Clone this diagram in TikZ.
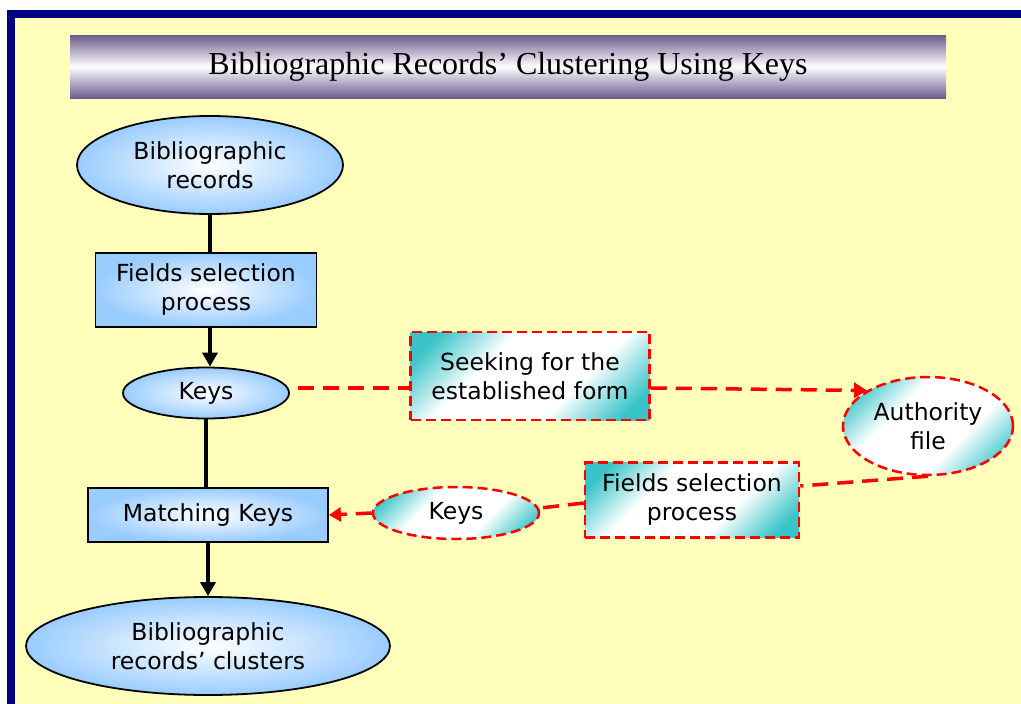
\documentclass[tikz,border=0pt]{standalone}
\usepackage{fontspec}
\setmainfont{DejaVu Sans}
\newfontfamily\titlefont{Liberation Serif}
\usetikzlibrary{shapes.geometric,arrows.meta}
\definecolor{navyframe}{RGB}{0,0,128}
\definecolor{paper}{RGB}{255,255,187}
\definecolor{dusk}{RGB}{106,92,142}
\definecolor{skyfill}{RGB}{153,204,255}
\definecolor{tealfill}{RGB}{56,196,200}
\pgfdeclareverticalshading{tealfade}{100bp}{color(0bp)=(tealfill); color(21bp)=(tealfill);
  color(38bp)=(white); color(62bp)=(white); color(79bp)=(tealfill); color(100bp)=(tealfill)}
\begin{document}
\begin{tikzpicture}[x=1pt,y=-1pt,
                    every node/.style={font=\fontsize{23.5}{29}\selectfont,align=center,inner sep=0pt},
                    blueell/.style={ellipse,draw=black,line width=1.8pt,inner color=white,outer color=skyfill},
                    bluebox/.style={rectangle,draw=black,line width=1.8pt,inner color=white,outer color=skyfill},
                    tealell/.style={ellipse,draw=red,line width=2.5pt,dash pattern=on 10pt off 5pt,
                                    shading=tealfade,shading angle=45},
                    tealbox/.style={rectangle,draw=red,line width=2.5pt,dash pattern=on 10pt off 5pt,
                                    shading=tealfade,shading angle=45},
                    flow/.style={line width=3.5pt},
                    redflow/.style={draw=red,line width=3.5pt,dash pattern=on 16pt off 9pt}]
\fill [white] (0,0) rectangle (1021,704);
\fill [navyframe] (7,10) rectangle (1021,704);
\fill [paper] (15,18) rectangle (1021,704);
\useasboundingbox (0,0) rectangle (1021,704);
\node [minimum width=876pt,minimum height=63pt,top color=dusk,bottom color=dusk,middle color=white,
       font=\titlefont\fontsize{32}{38}\selectfont] (title) at (508,66.5) {Bibliographic Records’ Clustering Using Keys};
\node [blueell,minimum width=266pt,minimum height=98pt] (recs) at (210,165) {Bibliographic\\records};
\node [bluebox,minimum width=221pt,minimum height=74pt] (fsel) at (206,290) {Fields selection\\process};
\node [blueell,minimum width=166pt,minimum height=51pt] (keys) at (206,393) {Keys};
\node [bluebox,minimum width=240pt,minimum height=54pt] (match) at (208,515) {Matching Keys};
\node [blueell,minimum width=364pt,minimum height=98pt] (clus) at (208,646) {Bibliographic\\records’ clusters};
\node [tealbox,minimum width=239pt,minimum height=88pt] (seek) at (530,376) {Seeking for the\\established form};
\node [tealell,minimum width=170pt,minimum height=98pt] (auth) at (928,426) {Authority\\file};
\node [tealbox,minimum width=214pt,minimum height=75pt] (fsel2) at (692,500) {Fields selection\\process};
\node [tealell,minimum width=166pt,minimum height=52pt] (keys2) at (456,513) {Keys};
\coordinate (kout) at ([xshift=8pt,yshift=5pt]keys.east);
\draw [flow] (recs.south) -- (recs.south |- fsel.north);
\draw [flow,-{Triangle[length=14pt,width=15pt]}] (fsel.south -| recs.south) -- (keys.north -| recs.south);
\draw [flow] (keys.south) -- (keys.south |- match.north);
\draw [flow,-{Triangle[length=14pt,width=15pt]}] (match.south) -- (match.south |- clus.north);
\draw [redflow] (kout) -- (kout -| seek.west);
\draw [redflow,-{Triangle[length=13pt,width=15pt]}] (kout -| seek.east) -- (auth.north west);
\draw [redflow] (auth.south) -- ([yshift=14pt]fsel2.east);
\draw [redflow] ([yshift=-3pt]fsel2.west) -- ([yshift=5pt]keys2.east);
\draw [redflow,-{Triangle[length=12pt,width=14pt]}] (keys2.west) -- (match.east);
\end{tikzpicture}
\end{document}
